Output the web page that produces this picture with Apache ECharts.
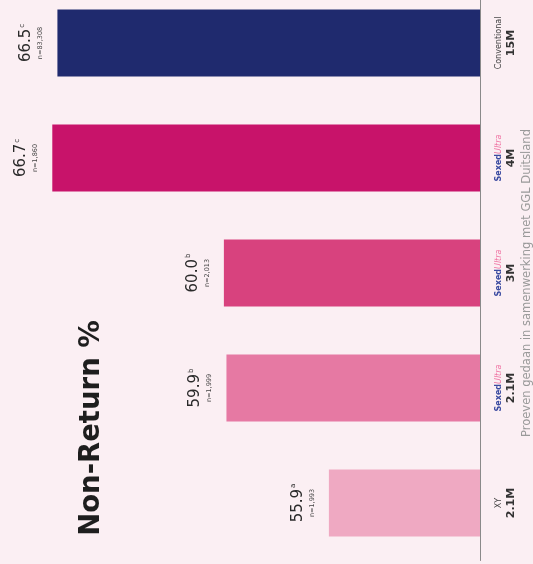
<!DOCTYPE html>
<html>
<head>
<meta charset="utf-8">
<script src="https://cdn.jsdelivr.net/npm/echarts@6/dist/echarts.min.js"></script>
<style>
  html, body { margin: 0; padding: 0; background: #fbeff3; overflow: hidden; width: 533px; height: 564px; }
  #chart { position: absolute; left: 0; top: -18px; width: 533px; height: 600px; }
</style>
</head>
<body>
<div id="chart"></div>
<script>
const categories = ['XY 2.1M', 'SexedUltra 2.1M', 'SexedUltra 3M', 'SexedUltra 4M', 'Conventional 15M'];
const brandLines = ['XY', 'SexedUltra', 'SexedUltra', 'SexedUltra', 'Conventional'];
const doseLabels = ['2.1M', '2.1M', '3M', '4M', '15M'];
const nonReturn = [55.9, 59.9, 60.0, 66.7, 66.5];
const superscripts = ['a', 'b', 'b', 'c', 'c'];
const sampleSizes = ['n=1,993', 'n=1,999', 'n=2,013', 'n=1,860', 'n=83,308'];
const barColors = ['#efa9c2', '#e679a3', '#d8427e', '#c8136a', '#1f2a6e'];
const titleText = 'Non-Return %';
const footnoteText = 'Proeven gedaan in samenwerking met GGL Duitsland';

const OFFSET = 18; // chart canvas starts 18px above the page
const chart = echarts.init(document.getElementById('chart'));
const FONT = 'DejaVu Sans';

chart.setOption({
  backgroundColor: '#fbeff3',
  animation: false,
  grid: { left: 19, right: 53, top: 3.5, bottom: 21.5, containLabel: false },
  xAxis: {
    type: 'value', min: 50, max: 68, inverse: true, show: false,
    splitLine: { show: false }
  },
  yAxis: {
    type: 'category',
    data: categories,
    position: 'right',
    axisLine: { show: true, onZero: false, lineStyle: { color: '#8a8a8a', width: 1 } },
    axisTick: { show: false },
    splitLine: { show: false },
    axisLabel: {
      interval: 0,
      rotate: 90,
      margin: 13,
      align: 'center',
      verticalAlign: 'top',
      formatter: function (value, index) {
        const brand = brandLines[index];
        let first;
        if (brand === 'SexedUltra') {
          first = '{sx|Sexed}{ul|Ultra}';
        } else {
          first = '{br|' + brand + '}';
        }
        return first + '\n{d|' + doseLabels[index] + '}';
      },
      rich: {
        br: { fontFamily: FONT, fontSize: 8, color: '#444', lineHeight: 12 },
        sx: { fontFamily: FONT, fontSize: 8, fontWeight: 'bold', color: '#3a4aa0', lineHeight: 12 },
        ul: { fontFamily: FONT, fontSize: 8, fontStyle: 'italic', color: '#ef6fa0', lineHeight: 12 },
        d: { fontFamily: FONT, fontSize: 11, fontWeight: 'bold', color: '#333', lineHeight: 13 }
      }
    }
  },
  series: [{
    type: 'bar',
    barWidth: 67,
    data: nonReturn.map(function (v, i) {
      return { value: v, itemStyle: { color: barColors[i] } };
    }),
    label: {
      show: true,
      position: 'left',
      distance: 11,
      rotate: 90,
      align: 'center',
      verticalAlign: 'bottom',
      formatter: function (p) {
        return '{v|' + nonReturn[p.dataIndex].toFixed(1) + '}{s|' + superscripts[p.dataIndex] + '}\n{n|' + sampleSizes[p.dataIndex] + '}';
      },
      rich: {
        v: { fontFamily: FONT, fontSize: 15, color: '#2a2a2a', lineHeight: 16 },
        s: { fontFamily: FONT, fontSize: 7, color: '#2a2a2a', verticalAlign: 'top', lineHeight: 16, padding: [0, 0, 8, 1] },
        n: { fontFamily: FONT, fontSize: 6.5, color: '#444', lineHeight: 12 }
      }
    }
  }],
  graphic: [
    {
      type: 'text',
      x: 92, y: 428 + OFFSET,
      rotation: Math.PI / 2,
      style: {
        text: titleText,
        fontFamily: FONT,
        fontSize: 27.5,
        fontWeight: 'bold',
        fill: '#1e1e1e',
        align: 'center',
        verticalAlign: 'middle',
        textAlign: 'center',
        textVerticalAlign: 'middle'
      }
    },
    {
      type: 'text',
      x: 527, y: 283 + OFFSET,
      rotation: Math.PI / 2,
      style: {
        text: footnoteText,
        fontFamily: FONT,
        fontSize: 11.5,
        fill: '#9a9a9a',
        align: 'center',
        verticalAlign: 'middle',
        textAlign: 'center',
        textVerticalAlign: 'middle'
      }
    }
  ]
});
</script>
</body>
</html>
